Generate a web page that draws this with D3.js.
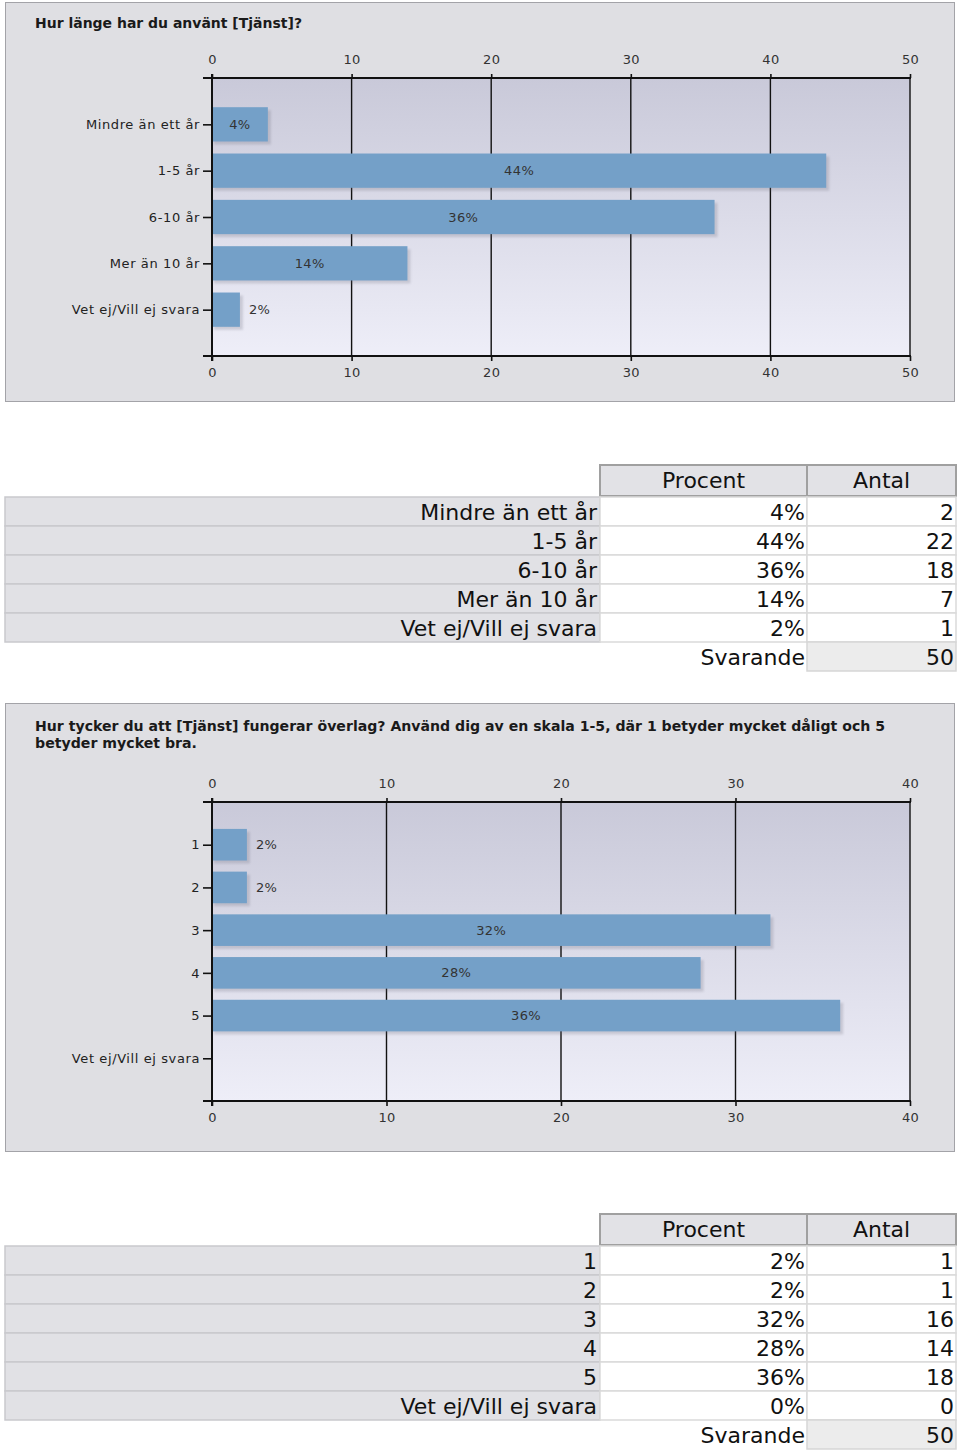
<!DOCTYPE html>
<html>
<head>
<meta charset="utf-8">
<script src="https://cdn.jsdelivr.net/npm/d3@7"></script>
<style>
  html, body { margin: 0; padding: 0; background: #ffffff; }
  svg { display: block; }
</style>
</head>
<body>
<svg id="chart" width="960" height="1452"></svg>
<script>
// ---------- DATA ----------
const q1Title = ["Hur länge har du använt [Tjänst]?"];
const q1Categories = ["Mindre än ett år", "1-5 år", "6-10 år", "Mer än 10 år", "Vet ej/Vill ej svara"];
const q1Percent = [4, 44, 36, 14, 2];
const q1Count = [2, 22, 18, 7, 1];
const q1Total = 50;
const q1Ticks = [0, 10, 20, 30, 40, 50];

const q2Title = ["Hur tycker du att [Tjänst] fungerar överlag? Använd dig av en skala 1-5, där 1 betyder mycket dåligt och 5",
                 "betyder mycket bra."];
const q2Categories = ["1", "2", "3", "4", "5", "Vet ej/Vill ej svara"];
const q2Percent = [2, 2, 32, 28, 36, 0];
const q2Count = [1, 1, 16, 14, 18, 0];
const q2Total = 50;
const q2Ticks = [0, 10, 20, 30, 40];

const tableHeaders = ["Procent", "Antal"];
const totalLabel = "Svarande";

// ---------- STYLE ----------
const BAR = "#74a0c8";
const PANEL_BG = "#dfdfe3";
const SMALL_FONT = "'DejaVu Sans', Verdana, sans-serif";

const svg = d3.select("#chart");
const defs = svg.append("defs");
const grad = defs.append("linearGradient").attr("id", "plotGrad")
  .attr("x1", 0).attr("y1", 0).attr("x2", 0).attr("y2", 1);
grad.append("stop").attr("offset", "0%").attr("stop-color", "#c9c9d9");
grad.append("stop").attr("offset", "100%").attr("stop-color", "#eeeef8");
const blur = defs.append("filter").attr("id", "shadowBlur")
  .attr("x", "-10%").attr("y", "-20%").attr("width", "130%").attr("height", "160%");
blur.append("feGaussianBlur").attr("stdDeviation", 1.2);

function drawChart(cfg) {
  const g = svg.append("g");
  g.append("rect")
    .attr("x", 5.5).attr("y", cfg.panelTop + 0.5)
    .attr("width", 949).attr("height", cfg.panelHeight)
    .attr("fill", PANEL_BG).attr("stroke", "#a3a3a8").attr("stroke-width", 1);

  cfg.title.forEach((line, i) => {
    g.append("text")
      .attr("x", 35).attr("y", cfg.titleY + i * 17)
      .attr("font-family", SMALL_FONT).attr("font-weight", "bold")
      .attr("font-size", 13.5).attr("fill", "#1a1a1a")
      .attr("textLength", cfg.titleLengths[i]).attr("lengthAdjust", "spacingAndGlyphs")
      .text(line);
  });

  const x = d3.scaleLinear().domain([0, cfg.max]).range([212, 910]);
  const y = d3.scalePoint().domain(cfg.cats).range([cfg.plotTop, cfg.plotBottom]).padding(1);
  const bh = y.step() * 0.74;

  g.append("rect")
    .attr("x", x(0)).attr("y", cfg.plotTop)
    .attr("width", x(cfg.max) - x(0)).attr("height", cfg.plotBottom - cfg.plotTop)
    .attr("fill", "url(#plotGrad)");

  g.append("g").selectAll("line")
    .data(cfg.ticks.filter(t => t > 0))
    .join("line")
    .attr("x1", d => x(d)).attr("x2", d => x(d))
    .attr("y1", cfg.plotTop).attr("y2", cfg.plotBottom)
    .attr("stroke", "#111").attr("stroke-width", 1.4);

  const data = cfg.cats.map((c, i) => ({ cat: c, v: cfg.values[i] }));

  g.append("g").selectAll("rect")
    .data(data.filter(d => d.v > 0))
    .join("rect")
    .attr("x", x(0) + 2).attr("y", d => y(d.cat) - bh / 2 + 3)
    .attr("width", d => x(d.v) - x(0) + 1).attr("height", bh)
    .attr("fill", "#606070").attr("opacity", 0.22)
    .attr("filter", "url(#shadowBlur)");

  g.append("g").selectAll("rect")
    .data(data.filter(d => d.v > 0))
    .join("rect")
    .attr("x", x(0)).attr("y", d => y(d.cat) - bh / 2)
    .attr("width", d => x(d.v) - x(0)).attr("height", bh)
    .attr("fill", BAR);

  g.append("g").selectAll("text")
    .data(data.filter(d => d.v > 0))
    .join("text")
    .attr("x", d => (x(d.v) - x(0) < 45) ? x(d.v) + 9 : (x(0) + x(d.v)) / 2)
    .attr("y", d => y(d.cat))
    .attr("dy", "0.35em")
    .attr("text-anchor", d => (x(d.v) - x(0) < 45) ? "start" : "middle")
    .attr("font-family", SMALL_FONT).attr("font-size", 13)
    .attr("letter-spacing", 0.4).attr("fill", "#333")
    .text(d => d.v + "%");

  [cfg.plotTop, cfg.plotBottom].forEach(yy => {
    g.append("line").attr("x1", 203).attr("x2", x(cfg.max) + 1)
      .attr("y1", yy).attr("y2", yy)
      .attr("stroke", "#111").attr("stroke-width", 2);
  });
  g.append("line").attr("x1", x(0)).attr("x2", x(0))
    .attr("y1", cfg.plotTop - 4).attr("y2", cfg.plotBottom + 5)
    .attr("stroke", "#111").attr("stroke-width", 2);

  const styleAxis = sel => {
    sel.select(".domain").remove();
    sel.selectAll("line").attr("stroke", "#111").attr("stroke-width", 1.6);
    sel.selectAll("text").attr("font-family", SMALL_FONT).attr("font-size", 13)
      .attr("letter-spacing", 0.3).attr("fill", "#333");
  };

  g.append("g").attr("transform", `translate(0,${cfg.plotTop})`)
    .call(d3.axisTop(x).tickValues(cfg.ticks).tickFormat(d3.format("d")).tickSize(4).tickPadding(10))
    .call(styleAxis);
  g.append("g").attr("transform", `translate(0,${cfg.plotBottom})`)
    .call(d3.axisBottom(x).tickValues(cfg.ticks).tickFormat(d3.format("d")).tickSize(5).tickPadding(7))
    .call(styleAxis);
  g.append("g").attr("transform", `translate(${x(0)},0)`)
    .call(d3.axisLeft(y).tickSize(9).tickPadding(3))
    .call(styleAxis)
    .call(s => s.selectAll("text").attr("font-size", 13).attr("letter-spacing", 0.6).attr("fill", "#222"));
}

function drawTable(cfg) {
  const g = svg.append("g");
  const FONT = "'DejaVu Sans', Verdana, sans-serif";
  const rowH = 29;
  const colX = [5, 600, 807, 956];
  tableHeaders.forEach((h, i) => {
    g.append("rect").attr("x", colX[i + 1]).attr("y", cfg.top)
      .attr("width", colX[i + 2] - colX[i + 1]).attr("height", 31)
      .attr("fill", "#e2e2e6").attr("stroke", "#a0a0a0").attr("stroke-width", 2);
    g.append("text").attr("x", (colX[i + 1] + colX[i + 2]) / 2).attr("y", cfg.top + 23)
      .attr("text-anchor", "middle").attr("font-family", FONT).attr("font-size", 22)
      .attr("fill", "#111").text(h);
  });
  const rowsTop = cfg.top + 32;
  const rows = cfg.cats.map((c, i) => ({ cat: c, p: cfg.percent[i], n: cfg.count[i] }));
  rows.forEach((r, i) => {
    const yy = rowsTop + i * rowH;
    g.append("rect").attr("x", colX[0]).attr("y", yy).attr("width", colX[1] - colX[0]).attr("height", rowH)
      .attr("fill", "#e1e1e5").attr("stroke", "#c9c9cd").attr("stroke-width", 1.5);
    g.append("rect").attr("x", colX[1]).attr("y", yy).attr("width", colX[2] - colX[1]).attr("height", rowH)
      .attr("fill", "#ffffff").attr("stroke", "#dadada").attr("stroke-width", 1.5);
    g.append("rect").attr("x", colX[2]).attr("y", yy).attr("width", colX[3] - colX[2]).attr("height", rowH)
      .attr("fill", "#ffffff").attr("stroke", "#dadada").attr("stroke-width", 1.5);
    const txt = [[colX[1] - 3, r.cat], [colX[2] - 2, r.p + "%"], [colX[3] - 2, r.n]];
    txt.forEach(([tx, t]) => {
      g.append("text").attr("x", tx).attr("y", yy + 23).attr("text-anchor", "end")
        .attr("font-family", FONT).attr("font-size", 22).attr("fill", "#111").text(t);
    });
  });
  const ty = rowsTop + rows.length * rowH;
  g.append("rect").attr("x", colX[2]).attr("y", ty).attr("width", colX[3] - colX[2]).attr("height", rowH)
    .attr("fill", "#ececec").attr("stroke", "#d6d6d6").attr("stroke-width", 1.5);
  g.append("text").attr("x", colX[2] - 2).attr("y", ty + 23).attr("text-anchor", "end")
    .attr("font-family", FONT).attr("font-size", 22).attr("fill", "#111").text(totalLabel);
  g.append("text").attr("x", colX[3] - 2).attr("y", ty + 23).attr("text-anchor", "end")
    .attr("font-family", FONT).attr("font-size", 22).attr("fill", "#111").text(cfg.total);
}

drawChart({
  panelTop: 2, panelHeight: 399, title: q1Title, titleLengths: [267], titleY: 28,
  cats: q1Categories, values: q1Percent, ticks: q1Ticks, max: 50,
  plotTop: 78, plotBottom: 356
});
drawTable({ top: 465, cats: q1Categories, percent: q1Percent, count: q1Count, total: q1Total });

drawChart({
  panelTop: 703, panelHeight: 448, title: q2Title, titleLengths: [850, 162], titleY: 731,
  cats: q2Categories, values: q2Percent, ticks: q2Ticks, max: 40,
  plotTop: 802, plotBottom: 1101
});
drawTable({ top: 1214, cats: q2Categories, percent: q2Percent, count: q2Count, total: q2Total });
</script>
</body>
</html>
